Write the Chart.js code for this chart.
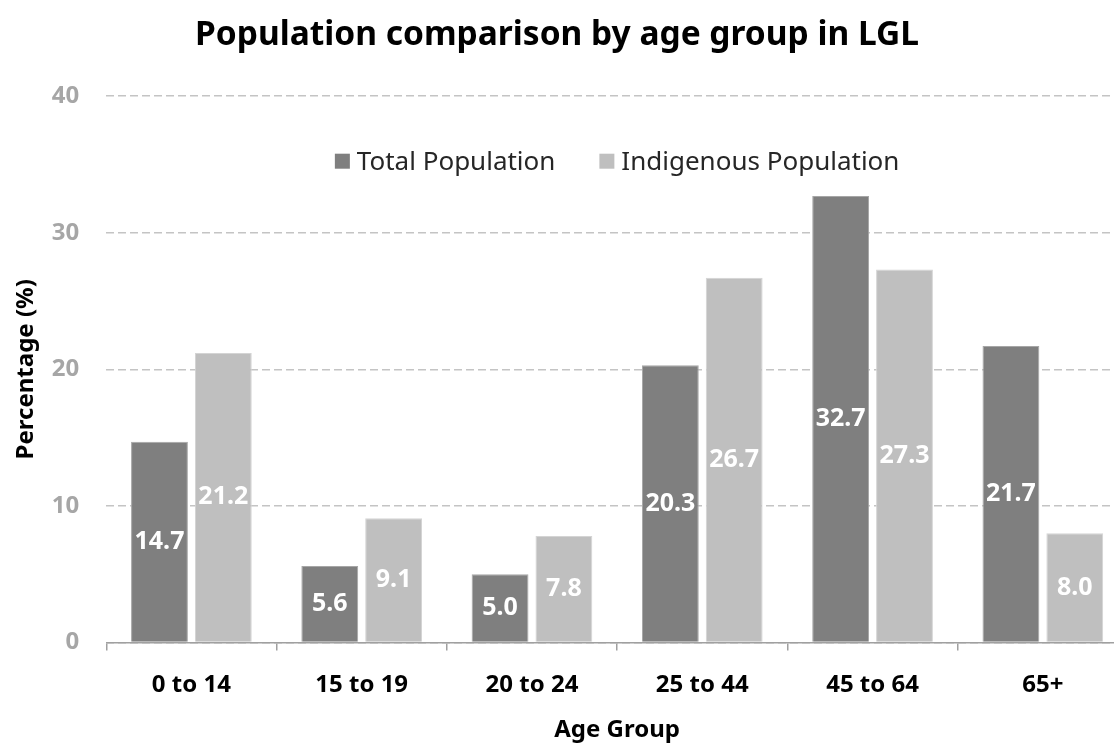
<!DOCTYPE html>
<html lang="en">
<head>
    <meta charset="UTF-8">
    <title>Population comparison by age group in LGL</title>
    <script src="https://cdn.jsdelivr.net/npm/chart.js"></script>
    <style>
        html, body { margin: 0; padding: 0; overflow: hidden; background: #fff; }
        #wrap { width: 1128px; height: 745px; }
    </style>
</head>
<body>
    <div id="wrap">
        <canvas id="ageChart"></canvas>
    </div>

    <script>
        // Chart data
        const ageGroups = ['0 to 14', '15 to 19', '20 to 24', '25 to 44', '45 to 64', '65+'];
        const totalPopulation = [14.7, 5.6, 5.0, 20.3, 32.7, 21.7];
        const indigenousPopulation = [21.2, 9.1, 7.8, 26.7, 27.3, 8.0];
        const yTicks = [0, 10, 20, 30, 40];

        const FONT = '"Noto Sans", "Open Sans", sans-serif';

        // white value labels in the middle of each bar
        const barLabels = {
            id: 'barLabels',
            afterDatasetsDraw(chart) {
                const ctx = chart.ctx;
                ctx.save();
                ctx.font = 'bold 25px ' + FONT;
                ctx.fillStyle = '#ffffff';
                ctx.textAlign = 'center';
                ctx.textBaseline = 'middle';
                chart.data.datasets.forEach((ds, i) => {
                    chart.getDatasetMeta(i).data.forEach((bar, j) => {
                        const p = bar.getProps(['x', 'y', 'base'], true);
                        ctx.fillText(ds.data[j].toFixed(1), p.x, (p.y + p.base) / 2);
                    });
                });
                ctx.restore();
            }
        };

        // legend sitting inside the plot area, in one row
        const legendInside = {
            id: 'legendInside',
            afterLayout(chart) {
                // canvas is a bit wider than the window, keep the title centred on the window
                if (chart.titleBlock) {
                    chart.titleBlock.left -= 9;
                    chart.titleBlock.right -= 9;
                }
            },
            afterDraw(chart) {
                const ctx = chart.ctx;
                const area = chart.chartArea;
                const box = 15, gapText = 7, gapItem = 44;
                ctx.save();
                ctx.font = '26px ' + FONT;
                ctx.textBaseline = 'middle';
                ctx.textAlign = 'left';
                const items = chart.data.datasets.map(ds => ({
                    text: ds.label,
                    color: ds.backgroundColor,
                    w: ctx.measureText(ds.label).width
                }));
                let total = gapItem * (items.length - 1);
                items.forEach(it => { total += box + gapText + it.w; });
                let x = (area.left + area.right) / 2 - total / 2;
                const y = area.top + 65;
                items.forEach(it => {
                    ctx.fillStyle = it.color;
                    ctx.fillRect(x, y - box / 2, box, box);
                    ctx.fillStyle = '#262626';
                    ctx.fillText(it.text, x + box + gapText, y + 1);
                    x += box + gapText + it.w + gapItem;
                });
                ctx.restore();
            }
        };

        function initChart() {
            const ctx = document.getElementById('ageChart').getContext('2d');
            new Chart(ctx, {
                type: 'bar',
                data: {
                    labels: ageGroups,
                    datasets: [{
                        label: 'Total Population',
                        data: totalPopulation,
                        backgroundColor: '#7f7f7f',
                        borderColor: '#a6a6a6',
                        borderWidth: 1
                    }, {
                        label: 'Indigenous Population',
                        data: indigenousPopulation,
                        backgroundColor: '#bfbfbf',
                        borderColor: '#d4d4d4',
                        borderWidth: 1
                    }]
                },
                options: {
                    responsive: true,
                    maintainAspectRatio: false,
                    animation: false,
                    categoryPercentage: 0.75,
                    barPercentage: 0.89,
                    layout: { padding: { left: 4, right: 0, top: 0, bottom: 0 } },
                    plugins: {
                        title: {
                            display: true,
                            text: 'Population comparison by age group in LGL',
                            color: '#000',
                            font: { family: FONT, size: 33.5, weight: 'bold' },
                            padding: { top: 15, bottom: 41 }
                        },
                        legend: { display: false },
                        tooltip: { enabled: false }
                    },
                    scales: {
                        x: {
                            grid: {
                                offset: true,
                                drawOnChartArea: false,
                                drawTicks: true,
                                tickLength: 8,
                                color: '#a0a0a0',
                                lineWidth: 1.5
                            },
                            border: { display: true, color: '#a0a0a0', width: 1.5 },
                            ticks: {
                                color: '#000',
                                font: { family: FONT, size: 24, weight: 'bold' },
                                padding: 20
                            },
                            title: {
                                display: true,
                                text: 'Age Group',
                                color: '#000',
                                font: { family: FONT, size: 24, weight: 'bold' },
                                padding: { top: -3, bottom: 0 }
                            }
                        },
                        y: {
                            min: 0,
                            max: 40,
                            afterBuildTicks(axis) {
                                axis.ticks = yTicks.map(v => ({ value: v }));
                            },
                            grid: {
                                color: '#c4c4c4',
                                drawTicks: false,
                                lineWidth: 1.5
                            },
                            border: { display: false, dash: [8, 4] },
                            ticks: {
                                color: '#a6a6a6',
                                font: { family: FONT, size: 24, weight: 'bold' },
                                padding: 27
                            },
                            title: {
                                display: true,
                                text: 'Percentage (%)',
                                color: '#000',
                                font: { family: FONT, size: 24, weight: 'bold' },
                                padding: { top: 8, bottom: -16 }
                            }
                        }
                    }
                },
                plugins: [barLabels, legendInside]
            });
        }

        document.addEventListener('DOMContentLoaded', initChart);
    </script>
</body>
</html>
